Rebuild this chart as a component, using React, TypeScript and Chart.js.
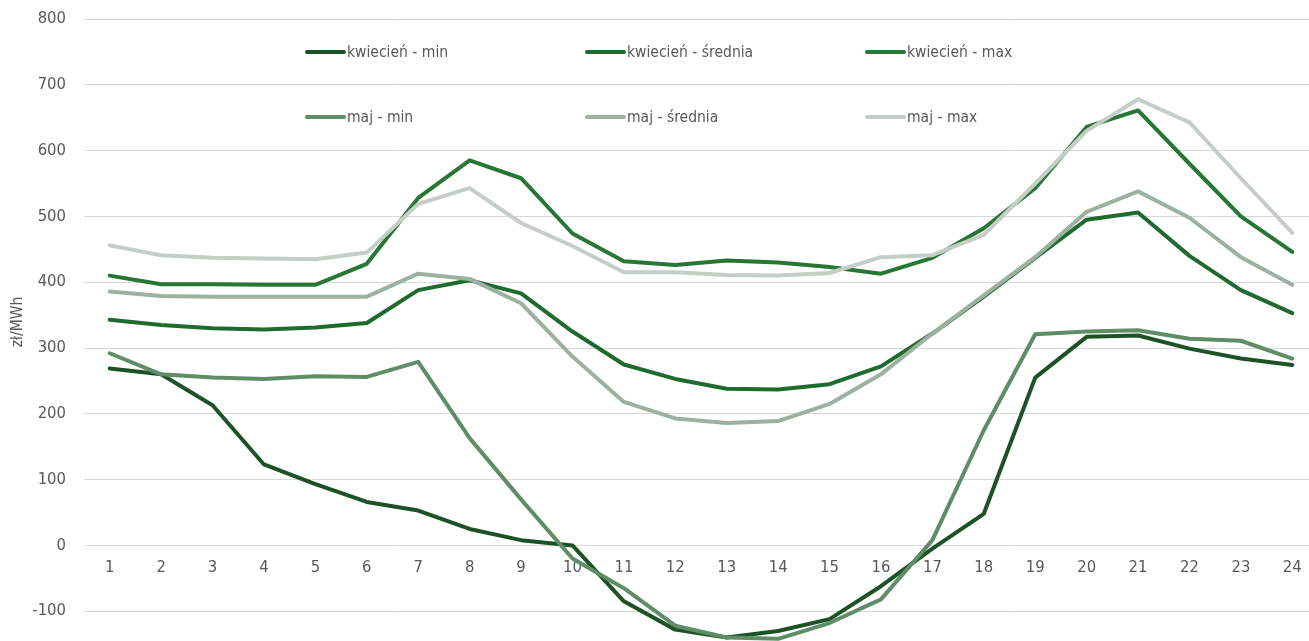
import { useEffect, useRef } from "react";
import { Chart, registerables } from "chart.js";

Chart.register(...registerables);

const hours = ["1","2","3","4","5","6","7","8","9","10","11","12","13","14","15","16","17","18","19","20","21","22","23","24"];

const kwiecienMin = [269, 260, 213, 123, 93, 66, 53, 25, 8, 0, -85, -128, -140, -130, -112, -62, -5, 48, 255, 317, 319, 299, 284, 274];
const kwiecienSrednia = [343, 335, 330, 328, 331, 338, 388, 403, 383, 325, 275, 253, 238, 237, 245, 272, 322, 378, 437, 495, 506, 440, 388, 353];
const kwiecienMax = [410, 397, 397, 396, 396, 428, 528, 585, 558, 474, 432, 426, 433, 430, 423, 413, 437, 482, 543, 636, 661, 580, 500, 446];
const majMin = [292, 260, 255, 253, 257, 256, 279, 163, 70, -20, -65, -122, -140, -142, -118, -82, 8, 175, 321, 325, 327, 314, 311, 284];
const majSrednia = [386, 379, 378, 378, 378, 378, 413, 405, 368, 287, 218, 193, 186, 189, 215, 260, 322, 380, 438, 507, 538, 498, 438, 396];
const majMax = [456, 441, 437, 436, 435, 445, 519, 543, 490, 455, 415, 415, 411, 410, 414, 438, 441, 472, 550, 630, 678, 643, 558, 475];

const seriesNames = ["kwiecień - min", "kwiecień - średnia", "kwiecień - max", "maj - min", "maj - średnia", "maj - max"];
const seriesData = [kwiecienMin, kwiecienSrednia, kwiecienMax, majMin, majSrednia, majMax];
const seriesColors = ["#1c5226", "#1f6a2e", "#267634", "#5e8d66", "#9cb1a1", "#c4cec6"];

const yMin = -200;
const yMax = 800;
const yStep = 100;
const yTitle = "zł/MWh";

const FONT = "'DejaVu Sans Condensed', 'Roboto', sans-serif";
const TEXT_COLOR = "#595959";

const legendCols = [305, 585, 865];
const legendRows = [52, 117];

const xLabelsAtZero = {
  id: "xLabelsAtZero",
  beforeDatasetsDraw(chart: any) {
    const { ctx } = chart;
    const xs = chart.scales.x;
    const ys = chart.scales.y;
    const y0 = ys.getPixelForValue(0);
    ctx.save();
    ctx.font = `16.5px ${FONT}`;
    ctx.fillStyle = TEXT_COLOR;
    ctx.textAlign = "center";
    ctx.textBaseline = "middle";
    hours.forEach((h, i) => {
      ctx.fillText(h, xs.getPixelForValue(i), y0 + 22);
    });
    ctx.restore();
  },
};

const yAxisTitle = {
  id: "yAxisTitle",
  afterDraw(chart: any) {
    const { ctx } = chart;
    ctx.save();
    ctx.translate(18, 322);
    ctx.rotate(-Math.PI / 2);
    ctx.font = `15.5px ${FONT}`;
    ctx.fillStyle = TEXT_COLOR;
    ctx.textAlign = "center";
    ctx.textBaseline = "middle";
    ctx.fillText(yTitle, 0, 0);
    ctx.restore();
  },
};

export default function App() {
  const ref = useRef<HTMLCanvasElement | null>(null);

  useEffect(() => {
    if (!ref.current) return;
    const n = seriesNames.length;
    const chart = new Chart(ref.current, {
      type: "line",
      data: {
        labels: hours,
        datasets: seriesNames.map((name, i) => ({
          label: name,
          data: seriesData[i],
          borderColor: seriesColors[i],
          backgroundColor: seriesColors[i],
          borderWidth: 4,
          pointRadius: 0,
          tension: 0,
          fill: false,
          borderJoinStyle: "round" as const,
          borderCapStyle: "round" as const,
          order: n - i,
        })),
      },
      options: {
        responsive: false,
        animation: false,
        devicePixelRatio: 1,
        layout: { padding: { top: 19, bottom: 26, left: 0, right: 0 } },
        plugins: {
          legend: { display: false },
          tooltip: { enabled: false },
        },
        scales: {
          x: {
            type: "category",
            display: false,
            offset: true,
          },
          y: {
            min: yMin,
            max: yMax,
            afterFit: (s: any) => {
              s.width = 84;
              s.paddingTop = 0;
              s.paddingBottom = 0;
            },
            ticks: {
              stepSize: yStep,
              padding: 18,
              color: TEXT_COLOR,
              font: { family: FONT, size: 16.5 },
            },
            grid: {
              color: "#d9d9d9",
              lineWidth: 1,
              drawTicks: false,
            },
            border: { display: false },
            title: { display: false },
          },
        },
      },
      plugins: [xLabelsAtZero, yAxisTitle],
    });
    return () => chart.destroy();
  }, []);

  return (
    <div
      style={{
        position: "fixed",
        left: 0,
        top: 0,
        width: 1309,
        height: 641,
        overflow: "hidden",
        background: "#ffffff",
      }}
    >
      <canvas ref={ref} width={1318} height={703} style={{ position: "absolute", left: 0, top: 0 }} />
      {seriesNames.map((name, i) => (
        <div
          key={name}
          style={{
            position: "absolute",
            left: legendCols[i % 3],
            top: legendRows[Math.floor(i / 3)] - 10,
            height: 20,
            display: "flex",
            alignItems: "center",
            fontFamily: FONT,
            fontSize: 15.5,
            color: TEXT_COLOR,
            whiteSpace: "nowrap",
          }}
        >
          <span
            style={{
              display: "inline-block",
              width: 41,
              height: 4,
              borderRadius: 2,
              background: seriesColors[i],
              marginRight: 1,
            }}
          />
          <span>{name}</span>
        </div>
      ))}
    </div>
  );
}
